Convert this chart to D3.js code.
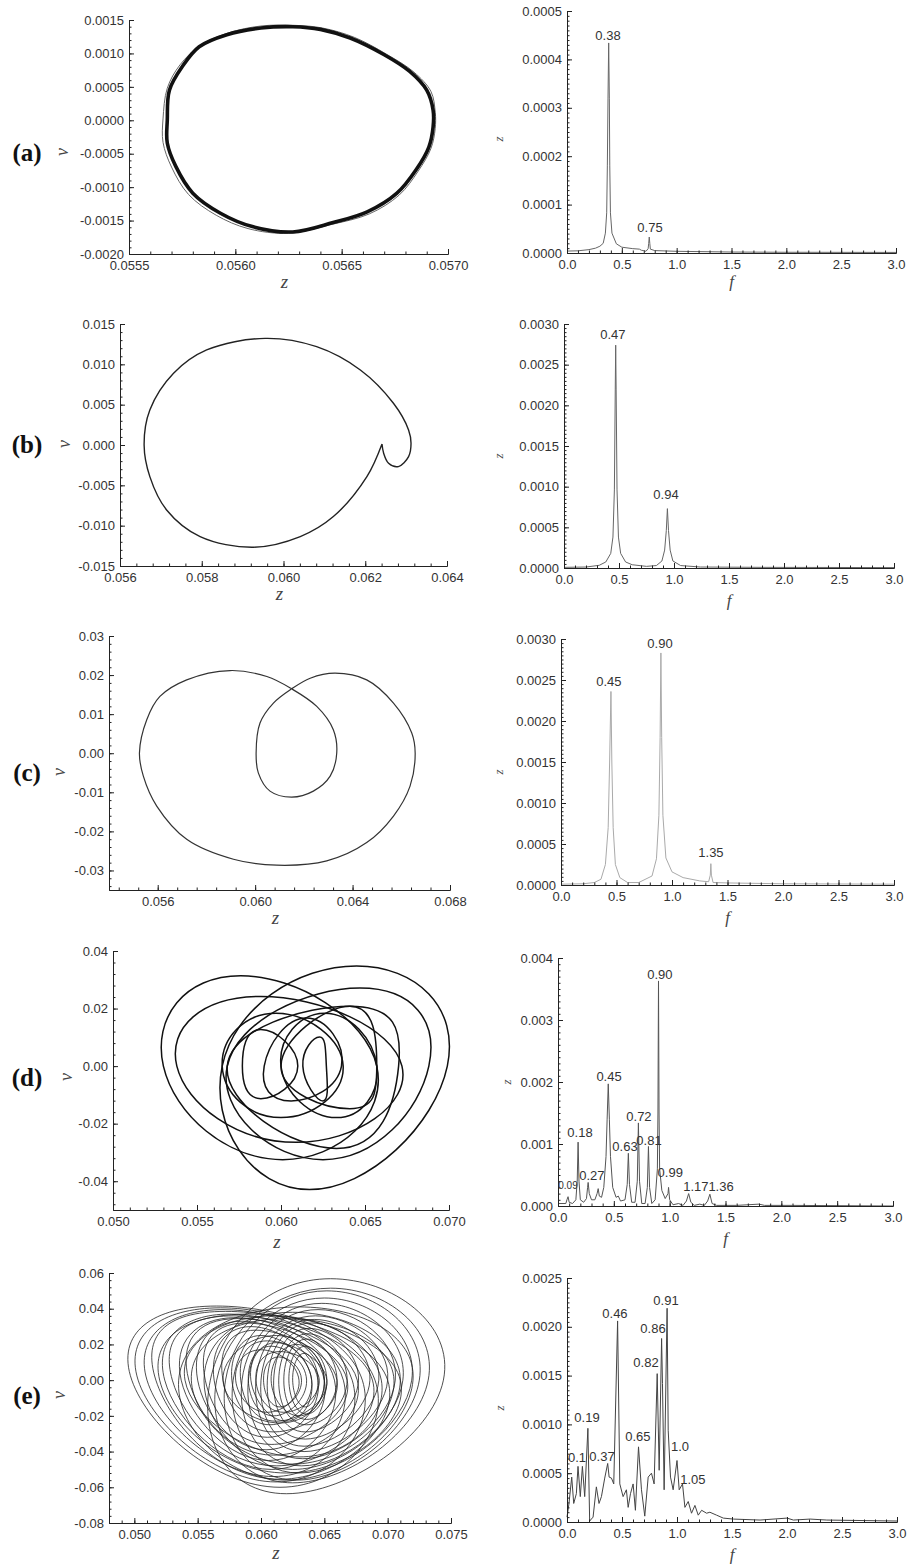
<!DOCTYPE html>
<html>
<head>
<meta charset="utf-8">
<script src="https://cdn.jsdelivr.net/npm/d3@7"></script>
<style>
  body { margin: 0; background: #fff; }
  .tick text { font-family: "Liberation Sans", Arial, sans-serif; font-size: 13px; fill: #333; }
  .axis path, .axis line { stroke: #222; stroke-width: 1; }
  .peak { font-family: "Liberation Sans", Arial, sans-serif; font-size: 13px; fill: #333; }
  .ttl { font-family: "Liberation Serif", "Times New Roman", serif; font-style: italic; fill: #444; }
  .panel { font-family: "Liberation Serif", "Times New Roman", serif; font-weight: bold; font-size: 25px; fill: #111; }
</style>
</head>
<body>
<div id="chart"></div>
<script>
// ---------- data ----------

// tick labels
var fTicks = [0, 0.5, 1.0, 1.5, 2.0, 2.5, 3.0];
var aZTicks = [0.0555, 0.0560, 0.0565, 0.0570];
var aVTicks = [-0.0020, -0.0015, -0.0010, -0.0005, 0, 0.0005, 0.0010, 0.0015];
var bZTicks = [0.056, 0.058, 0.060, 0.062, 0.064];
var bVTicks = [-0.015, -0.010, -0.005, 0, 0.005, 0.010, 0.015];
var cZTicks = [0.056, 0.060, 0.064, 0.068];
var cVTicks = [-0.03, -0.02, -0.01, 0, 0.01, 0.02, 0.03];
var dZTicks = [0.050, 0.055, 0.060, 0.065, 0.070];
var dVTicks = [-0.04, -0.02, 0, 0.02, 0.04];
var eZTicks = [0.050, 0.055, 0.060, 0.065, 0.070, 0.075];
var eVTicks = [-0.08, -0.06, -0.04, -0.02, 0, 0.02, 0.04, 0.06];
var aSpecTicks = [0, 0.0001, 0.0002, 0.0003, 0.0004, 0.0005];
var bSpecTicks = [0, 0.0005, 0.0010, 0.0015, 0.0020, 0.0025, 0.0030];
var cSpecTicks = [0, 0.0005, 0.0010, 0.0015, 0.0020, 0.0025, 0.0030];
var dSpecTicks = [0, 0.001, 0.002, 0.003, 0.004];
var eSpecTicks = [0, 0.0005, 0.0010, 0.0015, 0.0020, 0.0025];

// phase portraits: [z, v]
var aOrbit = [
  [0.05568, 0.00000], [0.05569, 0.00045], [0.05575, 0.00080], [0.05583, 0.00110],
  [0.05596, 0.00128], [0.05612, 0.00138], [0.05627, 0.00140], [0.05640, 0.00136],
  [0.05654, 0.00123], [0.05670, 0.00098], [0.05682, 0.00073], [0.05690, 0.00045],
  [0.05693, 0.00015], [0.05693, -0.00010], [0.05691, -0.00040], [0.05685, -0.00074],
  [0.05676, -0.00109], [0.05662, -0.00137], [0.05646, -0.00153], [0.05627, -0.00167],
  [0.05608, -0.00159], [0.05593, -0.00139], [0.05580, -0.00109], [0.05572, -0.00069],
  [0.05568, -0.00034]
];
var aOrbit2 = [
  [0.05566, 0.00002], [0.05568, 0.00048], [0.05574, 0.00083], [0.05584, 0.00113],
  [0.05597, 0.00131], [0.05612, 0.00141], [0.05628, 0.00142], [0.05641, 0.00138],
  [0.05656, 0.00124], [0.05671, 0.00099], [0.05684, 0.00072], [0.05692, 0.00043],
  [0.05694, 0.00012], [0.05694, -0.00012], [0.05692, -0.00042], [0.05686, -0.00076],
  [0.05677, -0.00112], [0.05663, -0.00140], [0.05645, -0.00156], [0.05625, -0.00169],
  [0.05606, -0.00162], [0.05591, -0.00142], [0.05578, -0.00111], [0.05570, -0.00070],
  [0.05566, -0.00033]
];
var bOrbit = [
  [0.06241, 0.00013], [0.06245, -0.00102], [0.06257, -0.00226], [0.06281, -0.00268],
  [0.06306, -0.00144], [0.06312, 0.00021], [0.06306, 0.00187], [0.06269, 0.00517],
  [0.06188, 0.00930], [0.06081, 0.01219], [0.05955, 0.01322], [0.05812, 0.01178],
  [0.05731, 0.00889], [0.05673, 0.00434], [0.05659, 0.00000], [0.05673, -0.00392],
  [0.05714, -0.00805], [0.05796, -0.01135], [0.05926, -0.01267], [0.06041, -0.01135],
  [0.06122, -0.00887], [0.06204, -0.00392], [0.06241, 0.00013]
];
var cOrbit = [
  [0.05525, 0.00008], [0.05555, 0.00858], [0.05609, 0.01453], [0.05719, 0.01878],
  [0.05897, 0.02116], [0.06048, 0.01963], [0.06150, 0.01648], [0.06253, 0.01198],
  [0.06321, 0.00603], [0.06335, 0.00008], [0.06308, -0.00587], [0.06239, -0.00970],
  [0.06150, -0.01123], [0.06061, -0.00970], [0.06013, -0.00502], [0.06004, 0.00008],
  [0.06020, 0.00773], [0.06075, 0.01283], [0.06150, 0.01648], [0.06226, 0.01920],
  [0.06328, 0.02048], [0.06458, 0.01878], [0.06568, 0.01283], [0.06643, 0.00518],
  [0.06657, 0.00008], [0.06636, -0.00842], [0.06568, -0.01607], [0.06458, -0.02287],
  [0.06294, -0.02755], [0.06089, -0.02865], [0.05911, -0.02712], [0.05719, -0.02202],
  [0.05596, -0.01352], [0.05541, -0.00587]
];
// loops: [z left, z right, z at top, v top, z at bottom, v bottom]
var dLoops = [
  [0.0530, 0.0657, 0.0576, 0.0314, 0.0601, -0.0325],
  [0.0538, 0.0672, 0.0588, 0.0242, 0.0609, -0.0265],
  [0.0565, 0.0699, 0.0645, 0.0348, 0.0617, -0.0429],
  [0.0568, 0.0688, 0.0647, 0.0271, 0.0625, -0.0325],
  [0.0568, 0.0670, 0.0641, 0.0208, 0.0633, -0.0286],
  [0.0565, 0.0637, 0.0597, 0.0184, 0.0600, -0.0179],
  [0.0577, 0.0610, 0.0588, 0.0127, 0.0588, -0.0113],
  [0.0590, 0.0636, 0.0615, 0.0167, 0.0606, -0.0121],
  [0.0600, 0.0657, 0.0626, 0.0184, 0.0633, -0.0179],
  [0.0613, 0.0627, 0.0623, 0.0101, 0.0625, -0.0121],
  [0.0600, 0.0657, 0.0641, 0.0208, 0.0641, -0.0148]
];
var eLoops = [
  [0.0498, 0.0690, 0.0565, 0.0415, 0.0615, -0.0600],
  [0.0503, 0.0680, 0.0568, 0.0405, 0.0612, -0.0570],
  [0.0510, 0.0672, 0.0570, 0.0395, 0.0610, -0.0540],
  [0.0517, 0.0700, 0.0572, 0.0385, 0.0615, -0.0555],
  [0.0524, 0.0665, 0.0575, 0.0370, 0.0608, -0.0500],
  [0.0530, 0.0688, 0.0578, 0.0360, 0.0612, -0.0480],
  [0.0537, 0.0658, 0.0580, 0.0350, 0.0606, -0.0450],
  [0.0543, 0.0676, 0.0582, 0.0345, 0.0610, -0.0420],
  [0.0550, 0.0650, 0.0585, 0.0330, 0.0604, -0.0390],
  [0.0556, 0.0668, 0.0588, 0.0320, 0.0608, -0.0360],
  [0.0563, 0.0645, 0.0592, 0.0300, 0.0605, -0.0320],
  [0.0570, 0.0660, 0.0596, 0.0280, 0.0610, -0.0290],
  [0.0577, 0.0640, 0.0600, 0.0250, 0.0607, -0.0250],
  [0.0584, 0.0652, 0.0605, 0.0220, 0.0612, -0.0230],
  [0.0590, 0.0636, 0.0608, 0.0190, 0.0610, -0.0200],
  [0.0596, 0.0646, 0.0615, 0.0160, 0.0618, -0.0180],
  [0.0602, 0.0632, 0.0614, 0.0130, 0.0615, -0.0150],
  [0.0560, 0.0744, 0.0655, 0.0568, 0.0620, -0.0636],
  [0.0565, 0.0732, 0.0655, 0.0515, 0.0625, -0.0575],
  [0.0572, 0.0725, 0.0652, 0.0500, 0.0628, -0.0560],
  [0.0578, 0.0719, 0.0650, 0.0460, 0.0630, -0.0520],
  [0.0585, 0.0712, 0.0648, 0.0430, 0.0632, -0.0480],
  [0.0590, 0.0706, 0.0645, 0.0395, 0.0633, -0.0440],
  [0.0596, 0.0700, 0.0643, 0.0360, 0.0634, -0.0400],
  [0.0600, 0.0693, 0.0642, 0.0340, 0.0634, -0.0370],
  [0.0605, 0.0686, 0.0640, 0.0320, 0.0635, -0.0330],
  [0.0610, 0.0677, 0.0638, 0.0290, 0.0635, -0.0290],
  [0.0614, 0.0668, 0.0637, 0.0260, 0.0636, -0.0250],
  [0.0618, 0.0660, 0.0636, 0.0230, 0.0636, -0.0220],
  [0.0622, 0.0652, 0.0635, 0.0190, 0.0636, -0.0190],
  [0.0625, 0.0645, 0.0634, 0.0150, 0.0635, -0.0150],
  [0.0580, 0.0630, 0.0600, 0.0170, 0.0605, -0.0180],
  [0.0570, 0.0650, 0.0612, 0.0250, 0.0615, -0.0240],
  [0.0545, 0.0705, 0.0620, 0.0345, 0.0625, -0.0470],
  [0.0540, 0.0695, 0.0610, 0.0360, 0.0630, -0.0430],
  [0.0555, 0.0710, 0.0625, 0.0380, 0.0625, -0.0500],
  [0.0520, 0.0710, 0.0590, 0.0370, 0.0620, -0.0520],
  [0.0535, 0.0720, 0.0630, 0.0410, 0.0620, -0.0560],
  [0.0592, 0.0640, 0.0612, 0.0210, 0.0620, -0.0230],
  [0.0608, 0.0650, 0.0628, 0.0200, 0.0630, -0.0200]
];

// spectra: [f, amplitude]
var aSpec = [
  [0.00, 0.0000040], [0.10, 0.0000045], [0.20, 0.0000070], [0.26, 0.0000100],
  [0.30, 0.0000140], [0.33, 0.0000200], [0.35, 0.0000410], [0.362, 0.0000830],
  [0.368, 0.0001800], [0.374, 0.0003200], [0.38, 0.0004340], [0.386, 0.0003200],
  [0.390, 0.0001800], [0.396, 0.0000830], [0.41, 0.0000410], [0.45, 0.0000190],
  [0.50, 0.0000120], [0.60, 0.0000090], [0.66, 0.0000080], [0.68, 0.0000055],
  [0.70, 0.0000050], [0.72, 0.0000035], [0.74, 0.0000090], [0.745, 0.0000200],
  [0.75, 0.0000330], [0.755, 0.0000200], [0.76, 0.0000080], [0.80, 0.0000050],
  [1.00, 0.0000035], [1.50, 0.0000020], [2.00, 0.0000015], [3.00, 0.0000012]
];
var bSpec = [
  [0.00, 0.000008], [0.20, 0.000012], [0.32, 0.000033], [0.38, 0.000074],
  [0.425, 0.000180], [0.445, 0.000380], [0.458, 0.000960], [0.466, 0.002200],
  [0.47, 0.002740], [0.474, 0.002200], [0.482, 0.000960], [0.495, 0.000380],
  [0.515, 0.000180], [0.56, 0.000074], [0.62, 0.000040], [0.75, 0.000020],
  [0.84, 0.000030], [0.89, 0.000086], [0.915, 0.000220], [0.93, 0.000460],
  [0.94, 0.000730], [0.95, 0.000460], [0.965, 0.000220], [0.99, 0.000086],
  [1.06, 0.000030], [1.24, 0.000012], [1.80, 0.000008], [3.00, 0.000005]
];
var cSpec = [
  [0.00, 0.000010], [0.20, 0.000015], [0.30, 0.000030], [0.36, 0.000070],
  [0.40, 0.000250], [0.425, 0.000700], [0.438, 0.001500], [0.45, 0.002360],
  [0.458, 0.001500], [0.47, 0.000700], [0.49, 0.000250], [0.53, 0.000090],
  [0.60, 0.000030], [0.70, 0.000030], [0.82, 0.000110], [0.86, 0.000320],
  [0.882, 0.000850], [0.893, 0.001800], [0.90, 0.002830], [0.907, 0.001800],
  [0.918, 0.000850], [0.945, 0.000330], [1.00, 0.000160], [1.10, 0.000090],
  [1.25, 0.000050], [1.33, 0.000040], [1.345, 0.000120], [1.35, 0.000260],
  [1.355, 0.000120], [1.37, 0.000030], [1.50, 0.000025], [2.00, 0.000015],
  [3.00, 0.000010]
];
var dSpec = [
  [0.00, 0.00004], [0.07, 0.00004], [0.08, 0.00010], [0.09, 0.00015], [0.10, 0.00006],
  [0.13, 0.00004], [0.16, 0.00010], [0.172, 0.00040], [0.18, 0.00103], [0.188, 0.00040],
  [0.20, 0.00010], [0.23, 0.00006], [0.255, 0.00012], [0.265, 0.00030], [0.27, 0.00038],
  [0.28, 0.00020], [0.30, 0.00010], [0.33, 0.00010], [0.35, 0.00020], [0.36, 0.00028],
  [0.37, 0.00016], [0.39, 0.00014], [0.41, 0.00030], [0.43, 0.00080], [0.44, 0.00140],
  [0.45, 0.00197], [0.46, 0.00140], [0.47, 0.00080], [0.49, 0.00030], [0.52, 0.00014],
  [0.54, 0.00016], [0.56, 0.00008], [0.60, 0.00010], [0.62, 0.00035], [0.63, 0.00085],
  [0.64, 0.00035], [0.66, 0.00006], [0.69, 0.00006], [0.71, 0.00040], [0.72, 0.00134],
  [0.73, 0.00040], [0.75, 0.00004], [0.78, 0.00004], [0.80, 0.00030], [0.81, 0.00096],
  [0.82, 0.00030], [0.84, 0.00004], [0.87, 0.00010], [0.89, 0.00060], [0.895, 0.00150],
  [0.90, 0.00363], [0.905, 0.00150], [0.91, 0.00060], [0.93, 0.00025], [0.96, 0.00012],
  [0.985, 0.00020], [0.99, 0.00030], [1.00, 0.00010], [1.03, 0.00002], [1.08, 0.00004],
  [1.12, 0.00001], [1.15, 0.00008], [1.17, 0.00020], [1.19, 0.00006], [1.22, 0.00001],
  [1.27, 0.00003], [1.31, 0.00001], [1.34, 0.00008], [1.36, 0.00019], [1.38, 0.00004],
  [1.42, 0.00001], [1.60, 0.00001], [1.80, 0.00003], [1.85, 0.00001], [2.10, 0.00001],
  [3.00, 0.00000]
];
var eSpec = [
  [0.000, 0.00005], [0.018, 0.00019], [0.043, 0.00046], [0.061, 0.00019], [0.085, 0.00029],
  [0.100, 0.00057], [0.121, 0.00026], [0.140, 0.00057], [0.161, 0.00026], [0.190, 0.00096],
  [0.206, 0.00001], [0.237, 0.00005], [0.267, 0.00036], [0.291, 0.00019], [0.313, 0.00026],
  [0.343, 0.00045], [0.370, 0.00060], [0.383, 0.00046], [0.404, 0.00045], [0.425, 0.00039],
  [0.460, 0.00206], [0.480, 0.00039], [0.510, 0.00026], [0.540, 0.00033], [0.556, 0.00015],
  [0.577, 0.00029], [0.601, 0.00039], [0.622, 0.00012], [0.650, 0.00077], [0.677, 0.00033],
  [0.707, 0.00006], [0.738, 0.00046], [0.768, 0.00050], [0.792, 0.00039], [0.820, 0.00152],
  [0.838, 0.00053], [0.860, 0.00188], [0.868, 0.00142], [0.883, 0.00033], [0.910, 0.00219],
  [0.920, 0.00094], [0.941, 0.00046], [0.965, 0.00033], [1.000, 0.00063], [1.020, 0.00033],
  [1.050, 0.00039], [1.072, 0.00015], [1.102, 0.00021], [1.132, 0.00009], [1.163, 0.00017],
  [1.193, 0.00007], [1.224, 0.00012], [1.269, 0.00009], [1.299, 0.00010], [1.360, 0.00007],
  [1.421, 0.00004], [1.512, 0.00003], [1.755, 0.00002], [2.000, 0.00004], [2.058, 0.00002],
  [2.210, 0.00003], [2.362, 0.00002], [3.000, 0.00001]
];

// peak labels: [text, f, amplitude]
var aPeaks = [["0.38", 0.374, 0.000450], ["0.75", 0.757, 0.0000537]];
var bPeaks = [["0.47", 0.445, 0.002875], ["0.94", 0.927, 0.000909]];
var cPeaks = [["0.45", 0.432, 0.002488], ["0.90", 0.892, 0.002951], ["1.35", 1.351, 0.000402]];
var dPeaks = [
  ["0.18", 0.197, 0.001194], ["0.27", 0.304, 0.000500], ["0.45", 0.457, 0.002097],
  ["0.63", 0.600, 0.000968], ["0.72", 0.725, 0.001452], ["0.81", 0.815, 0.001065],
  ["0.90", 0.913, 0.003742], ["0.99", 1.005, 0.000540], ["1.17", 1.235, 0.000323],
  ["1.36", 1.460, 0.000323]
];
var dSmallPeaks = [["0.09", 0.0895, 0.000323]];
var ePeaks = [
  ["0.1", 0.091, 0.000657], ["0.19", 0.182, 0.001068], ["0.37", 0.318, 0.000667],
  ["0.46", 0.436, 0.002136], ["0.65", 0.645, 0.000873], ["0.82", 0.718, 0.001632],
  ["0.86", 0.782, 0.001982], ["0.91", 0.900, 0.002269], ["1.0", 1.027, 0.000770],
  ["1.05", 1.145, 0.000441]
];

// ---------- drawing ----------
var svg = d3.select("#chart").append("svg")
  .attr("width", 918)
  .attr("height", 1564);

function minorTicks(dom, step) {
  var lo = Math.ceil(dom[0] / step - 1e-6),
      hi = Math.floor(dom[1] / step + 1e-6);
  return d3.range(lo, hi + 1).map(function(i) { return i * step; });
}

function drawAxes(g, x, y, o) {
  var h = y.range()[0];

  // minor ticks
  g.append("g")
    .attr("class", "axis")
    .attr("transform", "translate(0," + h + ")")
    .call(d3.axisBottom(x).tickValues(minorTicks(x.domain(), o.xMinor))
      .tickSizeInner(-2.5).tickSizeOuter(0).tickFormat(""));
  g.append("g")
    .attr("class", "axis")
    .call(d3.axisLeft(y).tickValues(minorTicks(y.domain(), o.yMinor))
      .tickSizeInner(-2.5).tickSizeOuter(0).tickFormat(""));

  // major ticks
  g.append("g")
    .attr("class", "axis x-axis")
    .attr("transform", "translate(0," + h + ")")
    .call(d3.axisBottom(x).tickValues(o.xTicks)
      .tickSizeInner(-5).tickSizeOuter(0).tickPadding(7)
      .tickFormat(function(d) { return d.toFixed(o.xDec); }));
  g.append("g")
    .attr("class", "axis y-axis")
    .call(d3.axisLeft(y).tickValues(o.yTicks)
      .tickSizeInner(-5).tickSizeOuter(0).tickPadding(5)
      .tickFormat(function(d) { return d.toFixed(o.yDec); }));

  g.selectAll(".axis .domain").attr("stroke", "#222");
}

function loopPoints(l) {
  return [[l[0], 0], [l[2], l[3]], [l[1], 0], [l[4], l[5]]];
}

function phasePanel(p) {
  var g = svg.append("g").attr("transform", "translate(" + p.left + "," + p.top + ")");
  var x = d3.scaleLinear().domain(p.zDomain).range([0, p.width]);
  var y = d3.scaleLinear().domain(p.vDomain).range([p.height, 0]);

  var line = d3.line()
    .x(function(d) { return x(d[0]); })
    .y(function(d) { return y(d[1]); });

  if (p.orbits) {
    p.orbits.forEach(function(o) {
      g.append("path")
        .datum(o.data)
        .attr("fill", "none")
        .attr("stroke", o.color)
        .attr("stroke-width", o.width)
        .attr("d", line.curve(o.closed ? d3.curveCatmullRomClosed : d3.curveCatmullRom)(o.data));
    });
  }
  if (p.loops) {
    var loopLine = d3.line()
      .x(function(d) { return x(d[0]); })
      .y(function(d) { return y(d[1]); })
      .curve(d3.curveCardinalClosed.tension(-0.58));
    g.selectAll(".loop")
      .data(p.loops)
      .enter().append("path")
      .attr("class", "loop")
      .attr("fill", "none")
      .attr("stroke", p.loopColor)
      .attr("stroke-width", p.loopWidth)
      .attr("d", function(d) { return loopLine(loopPoints(d)); });
  }

  drawAxes(g, x, y, {
    xTicks: p.zTicks, yTicks: p.vTicks, xMinor: p.zMinor, yMinor: p.vMinor,
    xDec: p.zDec, yDec: p.vDec
  });

  // titles
  svg.append("text").attr("class", "panel")
    .attr("x", 27).attr("y", p.labelY).attr("dy", "0.35em")
    .attr("text-anchor", "middle").text(p.label);
  svg.append("text").attr("class", "ttl")
    .attr("transform", "translate(" + p.vx + "," + p.labelY + ") rotate(-90)")
    .attr("dy", "0.3em").attr("text-anchor", "middle")
    .style("font-size", "18px").text("v");
  svg.append("text").attr("class", "ttl")
    .attr("x", p.left + p.width / 2 - 4).attr("y", p.top + p.height + p.zOff)
    .attr("text-anchor", "middle").style("font-size", "19px").text("z");
}

function specPanel(p) {
  var g = svg.append("g").attr("transform", "translate(" + p.left + "," + p.top + ")");
  var x = d3.scaleLinear().domain([0, 3]).range([0, p.width]);
  var y = d3.scaleLinear().domain([0, p.zMax]).range([p.height, 0]);

  var line = d3.line()
    .x(function(d) { return x(d[0]); })
    .y(function(d) { return y(d[1]); });

  g.append("path")
    .datum(p.data)
    .attr("fill", "none")
    .attr("stroke", p.color)
    .attr("stroke-width", 1)
    .attr("d", line);

  drawAxes(g, x, y, {
    xTicks: fTicks, yTicks: p.ticks, xMinor: 0.1, yMinor: p.minor,
    xDec: 1, yDec: p.dec
  });

  g.selectAll(".peak")
    .data(p.peaks)
    .enter().append("text")
    .attr("class", "peak")
    .attr("x", function(d) { return x(d[1]); })
    .attr("y", function(d) { return y(d[2]); })
    .attr("dy", "0.35em")
    .attr("text-anchor", "middle")
    .text(function(d) { return d[0]; });

  if (p.smallPeaks) {
    g.selectAll(".speak")
      .data(p.smallPeaks)
      .enter().append("text")
      .attr("class", "peak")
      .style("font-size", "10px")
      .attr("x", function(d) { return x(d[1]); })
      .attr("y", function(d) { return y(d[2]); })
      .attr("dy", "0.35em")
      .attr("text-anchor", "middle")
      .text(function(d) { return d[0]; });
  }

  svg.append("text").attr("class", "ttl")
    .attr("transform", "translate(" + p.zx + "," + p.zy + ") rotate(-90)")
    .attr("dy", "0.3em").attr("text-anchor", "middle")
    .style("font-size", "13px").text("z");
  svg.append("text").attr("class", "ttl")
    .attr("x", p.left + p.width / 2).attr("y", p.top + p.height + p.fOff)
    .attr("text-anchor", "middle").style("font-size", "17px").text("f");
}

// (a)
phasePanel({
  left: 129, top: 20, width: 319, height: 234,
  zDomain: [0.0555, 0.0570], vDomain: [-0.0020, 0.0015],
  zTicks: aZTicks, vTicks: aVTicks, zMinor: 0.0001, vMinor: 0.0001, zDec: 4, vDec: 4,
  orbits: [
    { data: aOrbit2, closed: true, color: "#666", width: 1 },
    { data: aOrbit, closed: true, color: "#111", width: 3.6 }
  ],
  label: "(a)", labelY: 152, vx: 63, zOff: 34
});
specPanel({
  left: 567, top: 11, width: 329, height: 242, zMax: 0.0005,
  ticks: aSpecTicks, minor: 0.00001, dec: 4, data: aSpec, color: "#666",
  peaks: aPeaks, zx: 499, zy: 139, fOff: 34
});

// (b)
phasePanel({
  left: 120, top: 324, width: 327, height: 242,
  zDomain: [0.056, 0.064], vDomain: [-0.015, 0.015],
  zTicks: bZTicks, vTicks: bVTicks, zMinor: 0.0004, vMinor: 0.001, zDec: 3, vDec: 3,
  orbits: [{ data: bOrbit, closed: false, color: "#222", width: 1.4 }],
  label: "(b)", labelY: 444, vx: 65, zOff: 34
});
specPanel({
  left: 564, top: 324, width: 330, height: 244, zMax: 0.0030,
  ticks: bSpecTicks, minor: 0.00005, dec: 4, data: bSpec, color: "#666",
  peaks: bPeaks, zx: 499, zy: 456, fOff: 38
});

// (c)
phasePanel({
  left: 109, top: 636, width: 341, height: 254,
  zDomain: [0.054, 0.068], vDomain: [-0.035, 0.03],
  zTicks: cZTicks, vTicks: cVTicks, zMinor: 0.0008, vMinor: 0.002, zDec: 3, vDec: 2,
  orbits: [{ data: cOrbit, closed: true, color: "#333", width: 1.2 }],
  label: "(c)", labelY: 772, vx: 60, zOff: 34
});
specPanel({
  left: 561, top: 639, width: 333, height: 246, zMax: 0.0030,
  ticks: cSpecTicks, minor: 0.00005, dec: 4, data: cSpec, color: "#aaa",
  peaks: cPeaks, zx: 499, zy: 772, fOff: 38
});

// (d)
phasePanel({
  left: 113, top: 951, width: 336, height: 259,
  zDomain: [0.050, 0.070], vDomain: [-0.05, 0.04],
  zTicks: dZTicks, vTicks: dVTicks, zMinor: 0.001, vMinor: 0.004, zDec: 3, vDec: 2,
  loops: dLoops, loopColor: "#111", loopWidth: 1.5,
  label: "(d)", labelY: 1077, vx: 67, zOff: 38
});
specPanel({
  left: 558, top: 958, width: 335, height: 248, zMax: 0.004,
  ticks: dSpecTicks, minor: 0.0001, dec: 3, data: dSpec, color: "#555",
  peaks: dPeaks, smallPeaks: dSmallPeaks, zx: 507, zy: 1082, fOff: 38
});

// (e)
phasePanel({
  left: 109, top: 1273, width: 342, height: 250,
  zDomain: [0.048, 0.075], vDomain: [-0.08, 0.06],
  zTicks: eZTicks, vTicks: eVTicks, zMinor: 0.001, vMinor: 0.004, zDec: 3, vDec: 2,
  loops: eLoops, loopColor: "#222", loopWidth: 0.8,
  label: "(e)", labelY: 1395, vx: 60, zOff: 36
});
specPanel({
  left: 567, top: 1278, width: 330, height: 244, zMax: 0.0025,
  ticks: eSpecTicks, minor: 0.00005, dec: 4, data: eSpec, color: "#444",
  peaks: ePeaks, zx: 500, zy: 1408, fOff: 38
});
</script>
</body>
</html>
